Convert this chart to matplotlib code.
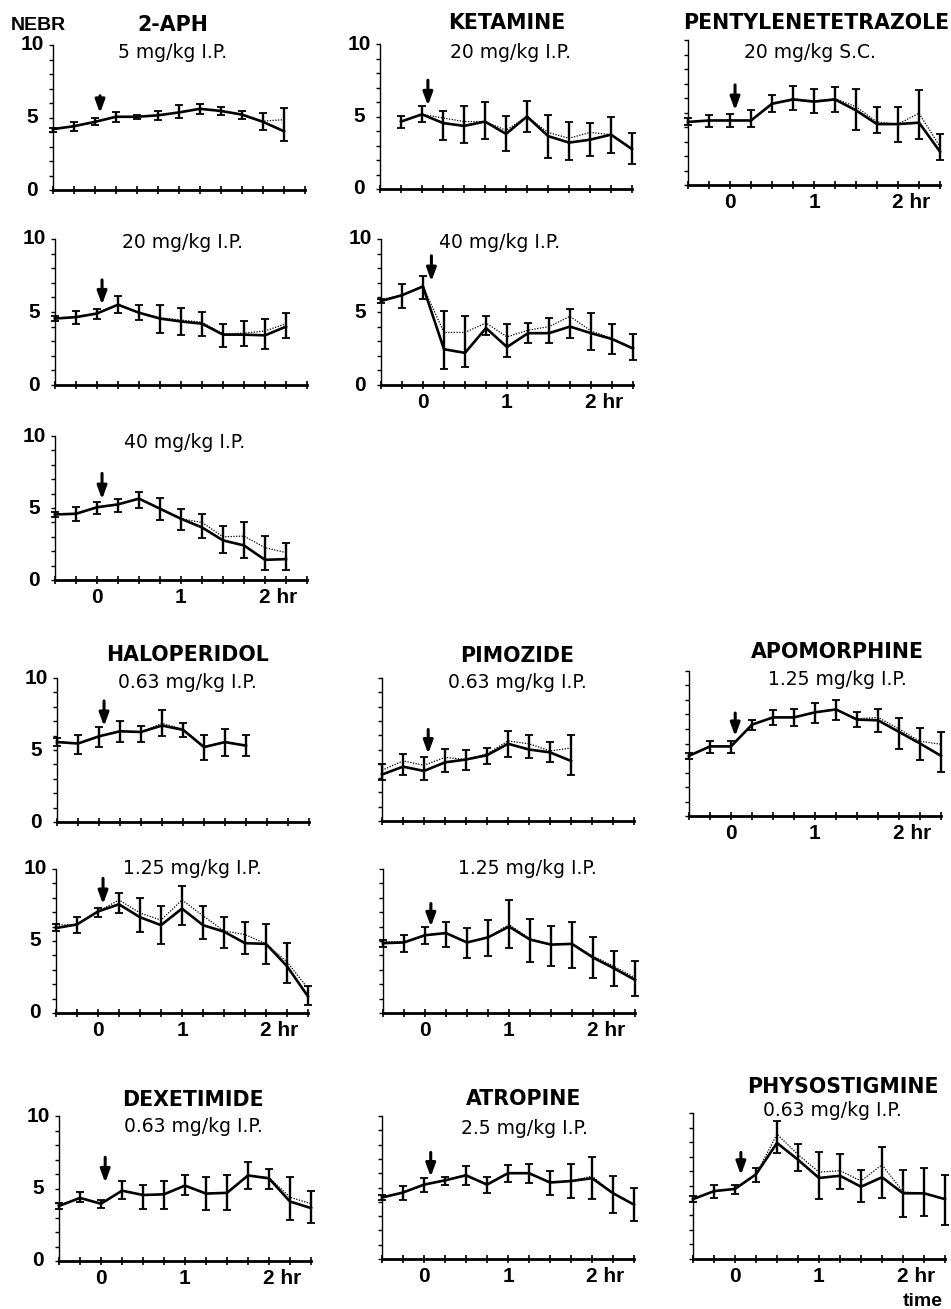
import numpy as np
import matplotlib
matplotlib.use('Agg')
import matplotlib.pyplot as plt
from matplotlib.ticker import MultipleLocator

# time after injection (hr)
t_a = [-0.5, -0.25, 0, 0.25, 0.5, 0.75, 1.0, 1.25, 1.5, 1.75, 2.0, 2.25]
t_b = [-0.25, 0, 0.25, 0.5, 0.75, 1.0, 1.25, 1.5, 1.75, 2.0, 2.25, 2.5]
t_c = [-0.5, -0.25, 0, 0.25, 0.5, 0.75, 1.0, 1.25, 1.5, 1.75, 2.0, 2.25, 2.5]
t_d = [-0.5, -0.25, 0, 0.25, 0.5, 0.75, 1.0, 1.25, 1.5, 1.75]

# NEBR values: solid line, dotted line, error bar low / high
aph5_solid = [4.2, 4.4, 4.7, 5.05, 5.05, 5.15, 5.35, 5.6, 5.45, 5.2, 4.7, 4.05]
aph5_dot = [4.2, 4.4, 4.7, 5.05, 5.05, 5.15, 5.35, 5.6, 5.45, 5.2, 4.75, 4.85]
aph5_lo = [4.0, 4.1, 4.45, 4.7, 4.9, 4.85, 4.95, 5.25, 5.2, 4.9, 4.15, 3.4]
aph5_hi = [4.3, 4.7, 5.0, 5.35, 5.2, 5.45, 5.85, 5.9, 5.7, 5.45, 5.3, 5.65]

ket20_solid = [4.65, 5.15, 4.55, 4.35, 4.65, 3.8, 5.0, 3.65, 3.2, 3.4, 3.75, 2.75]
ket20_dot = [4.65, 5.15, 4.9, 4.65, 4.65, 4.05, 5.0, 3.9, 3.5, 3.9, 3.75, 2.75]
ket20_lo = [4.2, 4.6, 3.4, 3.2, 3.45, 2.6, 3.9, 2.15, 2.0, 2.25, 2.5, 1.75]
ket20_hi = [5.05, 5.75, 5.4, 5.7, 6.0, 5.05, 6.1, 5.1, 4.6, 4.55, 4.95, 3.85]

ptz_solid = [4.35, 4.45, 4.45, 4.45, 5.6, 5.9, 5.75, 5.9, 5.15, 4.2, 4.2, 4.3, 2.3]
ptz_dot = [4.35, 4.45, 4.45, 4.45, 5.65, 5.95, 5.8, 5.95, 5.4, 4.35, 4.2, 4.95, 2.65]
ptz_lo = [4.15, 4.0, 4.0, 4.0, 5.05, 5.15, 5.0, 5.05, 3.8, 3.6, 3.0, 3.15, 1.7]
ptz_hi = [4.6, 4.85, 4.9, 5.15, 6.2, 6.8, 6.6, 6.75, 6.6, 5.35, 5.4, 6.55, 3.55]

aph20_solid = [4.55, 4.65, 4.9, 5.5, 4.95, 4.55, 4.35, 4.2, 3.45, 3.45, 3.4, 4.0]
aph20_dot = [4.55, 4.65, 4.9, 5.5, 4.95, 4.6, 4.45, 4.3, 3.5, 3.55, 3.7, 4.2]
aph20_lo = [4.4, 4.2, 4.55, 4.95, 4.45, 3.55, 3.4, 3.35, 2.6, 2.65, 2.45, 3.2]
aph20_hi = [4.7, 5.05, 5.2, 6.1, 5.45, 5.45, 5.3, 5.0, 4.2, 4.35, 4.55, 4.95]

ket40_solid = [5.75, 6.15, 6.75, 2.45, 2.2, 3.9, 2.6, 3.55, 3.55, 4.0, 3.55, 3.15, 2.5]
ket40_dot = [5.85, 6.15, 6.75, 3.6, 3.6, 4.25, 3.3, 3.75, 4.0, 4.7, 3.7, 3.2, 2.5]
ket40_lo = [5.6, 5.3, 5.9, 1.1, 1.2, 3.4, 1.95, 2.9, 2.9, 3.2, 2.4, 2.15, 1.7]
ket40_hi = [5.9, 6.9, 7.5, 5.05, 4.75, 4.75, 4.15, 4.25, 4.6, 5.2, 4.95, 4.2, 3.5]

aph40_solid = [4.55, 4.6, 5.05, 5.25, 5.65, 4.95, 4.25, 3.65, 2.75, 2.4, 1.4, 1.45]
aph40_dot = [4.55, 4.6, 5.05, 5.25, 5.65, 4.95, 4.25, 4.0, 3.0, 3.05, 2.25, 1.9]
aph40_lo = [4.4, 4.1, 4.6, 4.7, 5.0, 4.2, 3.5, 2.95, 1.9, 1.55, 0.7, 0.7]
aph40_hi = [4.7, 5.05, 5.45, 5.6, 6.1, 5.7, 4.95, 4.6, 3.75, 4.0, 3.05, 2.6]

halo063_solid = [5.55, 5.45, 5.95, 6.3, 6.25, 6.7, 6.4, 5.2, 5.55, 5.3]
halo063_dot = [5.6, 5.45, 5.95, 6.3, 6.25, 6.85, 6.45, 5.25, 5.55, 5.35]
halo063_lo = [5.3, 4.75, 5.2, 5.55, 5.55, 6.0, 5.9, 4.3, 4.6, 4.55]
halo063_hi = [5.8, 6.05, 6.6, 7.0, 6.65, 7.75, 6.9, 6.05, 6.45, 6.05]

pimo063_solid = [3.25, 3.8, 3.5, 4.1, 4.3, 4.6, 5.4, 5.0, 4.8, 4.2]
pimo063_dot = [3.55, 4.2, 3.9, 4.45, 4.3, 4.7, 5.6, 5.4, 4.9, 5.1]
pimo063_lo = [2.85, 3.2, 2.9, 3.4, 3.6, 4.0, 4.5, 4.4, 4.1, 3.2]
pimo063_hi = [4.0, 4.7, 4.5, 5.05, 5.0, 5.1, 6.3, 6.0, 5.5, 6.0]

apo_solid = [4.15, 4.8, 4.8, 6.3, 6.8, 6.8, 7.15, 7.35, 6.65, 6.6, 5.8, 5.0, 4.15]
apo_dot = [4.15, 4.8, 4.8, 6.3, 6.8, 6.8, 7.15, 7.35, 6.7, 6.8, 6.0, 5.15, 4.95]
apo_lo = [3.95, 4.35, 4.35, 5.9, 6.3, 6.2, 6.4, 6.65, 6.15, 5.8, 4.65, 3.85, 3.05]
apo_hi = [4.35, 5.2, 5.2, 6.6, 7.3, 7.4, 7.8, 8.0, 7.2, 7.4, 6.75, 6.05, 5.8]

halo125_solid = [5.9, 6.15, 7.05, 7.55, 6.65, 6.1, 7.25, 6.1, 5.65, 4.85, 4.8, 3.25, 1.15]
halo125_dot = [6.1, 6.15, 7.05, 7.85, 6.95, 6.45, 7.85, 6.75, 5.7, 5.45, 4.8, 3.55, 1.7]
halo125_lo = [5.7, 5.55, 6.7, 6.95, 5.6, 4.8, 6.1, 5.15, 4.5, 4.1, 3.4, 2.1, 0.55]
halo125_hi = [6.2, 6.7, 7.3, 8.3, 8.0, 7.45, 8.85, 7.45, 6.7, 6.35, 6.15, 4.85, 1.85]

pimo125_solid = [4.85, 4.9, 5.4, 5.55, 4.9, 5.25, 6.0, 5.1, 4.75, 4.8, 3.85, 3.1, 2.3]
pimo125_dot = [4.95, 4.95, 5.4, 5.55, 4.9, 5.25, 6.15, 5.15, 4.75, 4.8, 3.95, 3.25, 2.45]
pimo125_lo = [4.6, 4.25, 4.8, 4.6, 3.8, 3.95, 4.5, 3.55, 3.25, 3.15, 2.45, 1.85, 1.15]
pimo125_hi = [5.1, 5.45, 5.95, 6.35, 5.9, 6.45, 7.85, 6.55, 6.05, 6.35, 5.25, 4.3, 3.6]

dex_solid = [3.8, 4.35, 3.95, 4.85, 4.55, 4.6, 5.2, 4.65, 4.7, 5.9, 5.7, 4.1, 3.65]
dex_dot = [3.8, 4.35, 3.95, 4.85, 4.55, 4.6, 5.2, 4.65, 4.7, 5.9, 5.75, 4.4, 3.95]
dex_lo = [3.6, 4.05, 3.65, 4.3, 3.6, 3.6, 4.55, 3.5, 3.55, 5.0, 4.95, 2.85, 2.65]
dex_hi = [4.0, 4.75, 4.2, 5.5, 5.25, 5.55, 5.9, 5.8, 5.9, 6.85, 6.35, 5.8, 4.8]

atro_solid = [4.3, 4.65, 5.2, 5.5, 5.85, 5.2, 6.0, 6.0, 5.35, 5.45, 5.65, 4.6, 3.8]
atro_dot = [4.3, 4.65, 5.2, 5.5, 5.9, 5.25, 6.0, 6.0, 5.35, 5.45, 5.8, 4.6, 3.8]
atro_lo = [4.1, 4.1, 4.7, 5.15, 5.15, 4.6, 5.35, 5.3, 4.45, 4.3, 4.2, 3.2, 2.65]
atro_hi = [4.5, 5.1, 5.65, 5.75, 6.5, 5.75, 6.55, 6.65, 6.15, 6.65, 7.15, 5.8, 4.95]

physo_solid = [4.1, 4.65, 4.8, 5.8, 7.95, 6.8, 5.55, 5.7, 4.95, 5.6, 4.5, 4.5, 4.1]
physo_dot = [4.1, 4.65, 4.8, 5.8, 8.55, 7.15, 5.95, 6.05, 5.35, 6.45, 4.6, 4.5, 4.1]
physo_lo = [3.9, 4.2, 4.45, 5.25, 7.25, 6.05, 4.1, 4.8, 3.9, 4.2, 2.85, 2.95, 2.35]
physo_hi = [4.3, 5.1, 5.1, 6.2, 9.45, 7.85, 7.3, 7.2, 6.1, 7.65, 6.1, 6.2, 5.75]

# injection arrows: (x, tail, tip)
arrows = {
    'aph5': (0.06, 6.5, 5.3), 'ket20': (0.07, 7.5, 5.75), 'ptz': (0.06, 6.9, 5.15),
    'aph20': (0.06, 7.2, 5.5), 'ket40': (0.1, 8.85, 7.1), 'aph40': (0.06, 7.4, 5.6),
    'halo063': (0.06, 8.4, 6.65), 'pimo063': (0.05, 6.4, 4.7), 'apo': (0.05, 7.1, 5.5),
    'halo125': (0.06, 9.35, 7.55), 'pimo125': (0.07, 7.6, 6.0), 'dex': (0.05, 7.15, 5.4),
    'atro': (0.08, 7.45, 5.75), 'physo': (0.07, 7.3, 5.75),
}

W, H = 951, 1309
fig = plt.figure(figsize=(W / 100, H / 100), dpi=100)
fig.patch.set_facecolor('white')

BOLD = 'DejaVu Sans'
LAB = 'Liberation Sans'


def px(x, y):
    return x / W, 1 - y / H


def panel(key, t, solid, dot, lo, hi, x0, y10, y0, ylab=False, xlab=False, width=252):
    ax = fig.add_axes([x0 / W, 1 - y0 / H, width / W, (y0 - y10) / H])
    ax.set_xlim(-0.5, 2.5)
    ax.set_ylim(0, 10)
    for s in ['top', 'right']:
        ax.spines[s].set_visible(False)
    ax.spines['left'].set_linewidth(1.0)
    ax.spines['bottom'].set_linewidth(2.0)
    ax.xaxis.set_major_locator(MultipleLocator(0.25))
    ax.yaxis.set_major_locator(MultipleLocator(1))
    ax.tick_params(axis='x', direction='inout', length=6, width=1.2, labelbottom=False)
    ax.tick_params(axis='y', direction='out', length=3, width=1.0, labelleft=False)
    ax.patch.set_alpha(0)

    solid = np.array(solid)
    ax.plot(t, dot, color='black', lw=0.9, ls=(0, (1, 1.2)), clip_on=False, zorder=3)
    ax.plot(t, solid, color='black', lw=1.9, clip_on=False, zorder=4)
    yerr = [np.maximum(solid - np.array(lo), 0), np.maximum(np.array(hi) - solid, 0)]
    eb = ax.errorbar(t, solid, yerr=yerr, fmt='none', ecolor='black',
                     elinewidth=1.7, capsize=3.2, capthick=1.3, zorder=5)
    for c in eb.get_children():
        c.set_clip_on(False)

    ax_x, tail, tip = arrows[key]
    ax.annotate('', xy=(ax_x, tip), xytext=(ax_x, tail),
                arrowprops=dict(arrowstyle='-|>,head_length=0.6,head_width=0.22',
                                lw=2.2, color='black', mutation_scale=13,
                                shrinkA=0, shrinkB=0), zorder=6)

    if ylab:
        for v, s in [(10, '10'), (5, '5'), (0, '0')]:
            ax.annotate(s, xy=(0, v), xycoords=('axes fraction', 'data'),
                        xytext=(-15, 0), textcoords='offset points',
                        ha='center', va='center', fontsize=15,
                        family=LAB, fontweight='bold')
    if xlab:
        for v, s in [(0, '0'), (1, '1')]:
            ax.annotate(s, xy=(v, 0), xycoords=('data', 'axes fraction'),
                        xytext=(0, -6), textcoords='offset points',
                        ha='center', va='top', fontsize=15,
                        family=LAB, fontweight='bold')
        ax.annotate('2 hr', xy=(2, 0), xycoords=('data', 'axes fraction'),
                    xytext=(-4.5, -6), textcoords='offset points',
                    ha='left', va='top', fontsize=15,
                    family=LAB, fontweight='bold')
    return ax


def title(x, y, s):
    fig.text(*px(x, y), s, ha='center', va='center', fontsize=14.8,
             family=BOLD, fontweight='bold')


def sub(x, y, s):
    fig.text(*px(x, y), s, ha='center', va='center', fontsize=13.5, family=BOLD)


# row 1
panel('aph5', t_a, aph5_solid, aph5_dot, aph5_lo, aph5_hi, 53, 45, 190, ylab=True)
panel('ket20', t_b, ket20_solid, ket20_dot, ket20_lo, ket20_hi, 380, 44, 189, ylab=True)
panel('ptz', t_c, ptz_solid, ptz_dot, ptz_lo, ptz_hi, 688, 40, 185, xlab=True)
# row 2
panel('aph20', t_a, aph20_solid, aph20_dot, aph20_lo, aph20_hi, 55, 239, 385, ylab=True)
panel('ket40', t_c, ket40_solid, ket40_dot, ket40_lo, ket40_hi, 381, 239, 385, ylab=True, xlab=True)
# row 3
panel('aph40', t_a, aph40_solid, aph40_dot, aph40_lo, aph40_hi, 55, 436, 580, ylab=True, xlab=True)
# row 4
panel('halo063', t_d, halo063_solid, halo063_dot, halo063_lo, halo063_hi, 57, 678, 822, ylab=True)
panel('pimo063', t_d, pimo063_solid, pimo063_dot, pimo063_lo, pimo063_hi, 382, 678, 821)
panel('apo', t_c, apo_solid, apo_dot, apo_lo, apo_hi, 689, 671, 816, xlab=True)
# row 5
panel('halo125', t_c, halo125_solid, halo125_dot, halo125_lo, halo125_hi, 56, 869, 1013, ylab=True, xlab=True)
panel('pimo125', t_c, pimo125_solid, pimo125_dot, pimo125_lo, pimo125_hi, 383, 869, 1013, xlab=True)
# row 6
panel('dex', t_c, dex_solid, dex_dot, dex_lo, dex_hi, 59, 1116, 1261, ylab=True, xlab=True)
panel('atro', t_c, atro_solid, atro_dot, atro_lo, atro_hi, 382, 1116, 1259, xlab=True)
panel('physo', t_c, physo_solid, physo_dot, physo_lo, physo_hi, 693, 1113, 1259, xlab=True)

fig.text(*px(38, 25), 'NEBR', ha='center', va='center', fontsize=14,
         family=LAB, fontweight='bold')
fig.text(*px(923, 1302), 'time', ha='center', va='center', fontsize=14,
         family=LAB, fontweight='bold')

title(173, 25, '2-APH')
sub(173, 53, '5 mg/kg I.P.')
title(507, 23, 'KETAMINE')
sub(510, 52, '20 mg/kg I.P.')
title(816, 23, 'PENTYLENETETRAZOLE')
sub(810, 53, '20 mg/kg S.C.')
sub(183, 242, '20 mg/kg I.P.')
sub(500, 242, '40 mg/kg I.P.')
sub(185, 442, '40 mg/kg I.P.')
title(187, 655, 'HALOPERIDOL')
sub(187, 683, '0.63 mg/kg I.P.')
title(517, 656, 'PIMOZIDE')
sub(517, 683, '0.63 mg/kg I.P.')
title(837, 652, 'APOMORPHINE')
sub(837, 680, '1.25 mg/kg I.P.')
sub(192, 868, '1.25 mg/kg I.P.')
sub(527, 868, '1.25 mg/kg I.P.')
title(193, 1100, 'DEXETIMIDE')
sub(193, 1127, '0.63 mg/kg I.P.')
title(524, 1099, 'ATROPINE')
sub(524, 1128, '2.5 mg/kg I.P.')
title(843, 1087, 'PHYSOSTIGMINE')
sub(832, 1110, '0.63 mg/kg I.P.')

fig.savefig('out.png', dpi=100, facecolor='white')
